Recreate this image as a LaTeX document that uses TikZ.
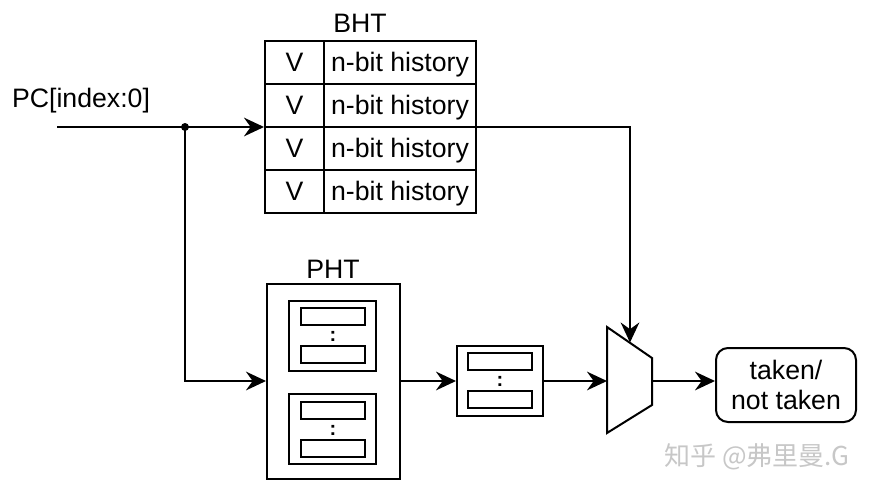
\documentclass[tikz,border=0pt]{standalone}
\usepackage{fontspec}
\setmainfont{Liberation Sans}
\newfontfamily\cjk{Noto Sans CJK SC}
\usetikzlibrary{arrows.meta}
\begin{document}
\begin{tikzpicture}[x=0.75pt,y=-0.75pt,line width=1.5pt,
  bigtext/.style={font=\fontsize{20}{23}\selectfont},
  cell/.style={draw,rectangle,inner sep=0pt,bigtext,line width=1.5pt},
  box/.style={draw,rectangle,inner sep=0pt,line width=1.5pt},
  slot/.style={draw,rectangle,inner sep=0pt,line width=1.5pt,minimum width={64*0.75pt},minimum height={17*0.75pt}},
  dots/.style={inner sep=0pt,font=\fontsize{15}{15}\selectfont\bfseries},
  arr/.style={-{Stealth[length=15pt,width=14pt,inset=5pt]},line width=1.5pt},
  lbl/.style={inner sep=0pt,bigtext}]
\useasboundingbox (0,0) rectangle (871,490);

% BHT
\node[lbl] (bhtlabel) at (360,23) {BHT};
\foreach \r/\y in {1/62.5,2/105.5,3/148.5,4/191.5}{
  \node[cell,minimum width={59*0.75pt},minimum height={43*0.75pt},text depth=0pt,text height=14pt] (v\r) at (294.5,\y) {V};
  \node[cell,minimum width={152*0.75pt},minimum height={43*0.75pt},text depth=0pt,text height=14pt] (h\r) at (400,\y) {n-bit history};
}
\node[box,minimum width={211*0.75pt},minimum height={172*0.75pt}] (bht) at (370.5,127) {};

% PC input
\node[lbl] (pc) at (81,101) {PC[index:0]};
\coordinate (pcstart) at (57,127);
\coordinate (junc) at (185,127);
\fill (junc) circle (3pt);
\draw[arr] (pcstart) -- (bht.west);

% PHT
\node[lbl] (phtlabel) at (333,269) {PHT};
\node[box,minimum width={133*0.75pt},minimum height={195*0.75pt}] (pht) at (333.5,381) {};
\node[box,minimum width={87*0.75pt},minimum height={70*0.75pt}] (g1) at (332.5,336) {};
\node[slot] (g1a) at (333,316) {};
\node[slot] (g1b) at (333,354.5) {};
\node[dots] (g1d) at (333,336) {:};
\node[box,minimum width={87*0.75pt},minimum height={70*0.75pt}] (g2) at (332.5,429) {};
\node[slot] (g2a) at (333,410.5) {};
\node[slot] (g2b) at (333,448) {};
\node[dots] (g2d) at (333,430) {:};

\draw[arr] (junc) |- (pht.west);

% small buffer
\node[box,minimum width={86*0.75pt},minimum height={70*0.75pt}] (buf) at (500,381) {};
\node[slot] (bufa) at (500,361.5) {};
\node[slot] (bufb) at (500,399.5) {};
\node[dots] (bufd) at (500,381) {:};
\draw[arr] (pht.east) -- (buf.west);

% MUX
\coordinate (m1) at (607,327);
\coordinate (m2) at (652,358);
\coordinate (m3) at (652,405);
\coordinate (m4) at (607,433);
\draw[line join=miter] (m1) -- (m2) -- (m3) -- (m4) -- cycle;
\coordinate (muxin) at (607,381);
\coordinate (muxsel) at (630,342.5);
\coordinate (muxout) at (652,381);
\draw[arr] (buf.east) -- (muxin);
\draw[arr] (bht.east) -| (muxsel);

% result
\node[draw,rounded corners=9pt,line width=1.5pt,minimum width={140*0.75pt},minimum height={74*0.75pt},align=center,bigtext,inner sep=0pt] (res) at (786,385) {taken/\\not taken};
\draw[arr] (muxout) -- (res.west |- muxout);

% watermark
\node[inner sep=0pt,text=black!22,font=\cjk\fontsize{19.5}{19.5}\selectfont] (wm) at (757,457) {知乎 @弗里曼.G};
\end{tikzpicture}
\end{document}
